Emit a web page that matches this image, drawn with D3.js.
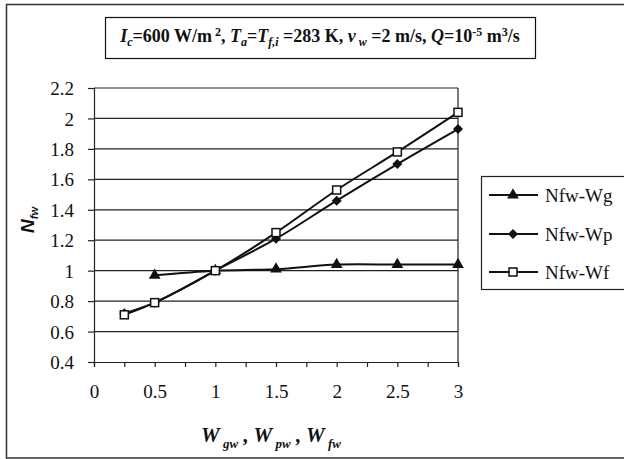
<!DOCTYPE html>
<html><head><meta charset="utf-8">
<script src="https://cdn.jsdelivr.net/npm/d3@7"></script>
<style>body{margin:0;background:#fff}svg{display:block}</style>
</head><body>
<svg id="c" width="624" height="459"></svg>
<script>
const xWg = [0.5, 1, 1.5, 2, 2.5, 3];
const yWg = [0.97, 1.0, 1.01, 1.04, 1.04, 1.04];
const xWp = [0.25, 0.5, 1, 1.5, 2, 2.5, 3];
const yWp = [0.72, 0.79, 1.0, 1.21, 1.46, 1.70, 1.93];
const xWf = [0.25, 0.5, 1, 1.5, 2, 2.5, 3];
const yWf = [0.71, 0.79, 1.0, 1.25, 1.53, 1.78, 2.04];
const seriesNames = ["Nfw-Wg", "Nfw-Wp", "Nfw-Wf"];
const xTickLabels = [0, 0.5, 1, 1.5, 2, 2.5, 3];
const yTickLabels = [0.4, 0.6, 0.8, 1, 1.2, 1.4, 1.6, 1.8, 2, 2.2];

const svg = d3.select("#c");
const serif = "'Liberation Serif','Times New Roman',serif";
const L = 94, R = 458, T = 88, B = 362;
const x = d3.scaleLinear().domain([0, 3]).range([L, R]);
const y = d3.scaleLinear().domain([0.4, 2.2]).range([B, T]);

// outer frame
svg.append("rect").attr("x", 6.5).attr("y", 4.5).attr("width", 640).attr("height", 453.5)
  .attr("fill", "none").attr("stroke", "#333").attr("stroke-width", 1.5);

// title box
svg.append("rect").attr("x", 105.5).attr("y", 17.5).attr("width", 430).attr("height", 41)
  .attr("fill", "#fff").attr("stroke", "#111").attr("stroke-width", 1.2);
const tt = svg.append("text").attr("x", 320).attr("y", 42).attr("text-anchor", "middle")
  .attr("font-family", serif).attr("font-weight", "bold").attr("font-size", 18).attr("fill", "#111");
const parts = [
  ["I", "it"], ["c", "sub-it"], ["=600 W/m", ""], [" 2", "sup"], [", ", ""],
  ["T", "it"], ["a", "sub-it"], ["=", ""], ["T", "it"], ["f,i", "sub-it"], [" =283 K, ", ""],
  ["ν", "it"], [" w", "sub-it"], [" =2 m/s, ", ""], ["Q", "it"], ["=10", ""], ["-5", "sup"], [" m", ""], ["3", "sup"], ["/s", ""]
];
parts.forEach(([t, k]) => {
  const s = tt.append("tspan").text(t);
  if (k.includes("it")) s.attr("font-style", "italic");
  if (k.startsWith("sub")) { s.attr("font-size", 12).attr("baseline-shift", "-4"); }
  if (k === "sup") { s.attr("font-size", 12).attr("baseline-shift", "6"); }
});

// gridlines
svg.append("g").selectAll("line").data(yTickLabels.filter(v => v > 0.4)).join("line")
  .attr("x1", L).attr("x2", R).attr("y1", d => y(d)).attr("y2", d => y(d))
  .attr("stroke", "#222").attr("stroke-width", 1.2);
// right border
svg.append("line").attr("x1", R).attr("x2", R).attr("y1", T).attr("y2", B)
  .attr("stroke", "#222").attr("stroke-width", 1.2);

// axes
const yAxis = d3.axisLeft(y).tickValues(yTickLabels).tickSize(6).tickFormat(d => d3.format("")(+d.toFixed(1)));
const gy = svg.append("g").attr("transform", `translate(${L},0)`).call(yAxis);
gy.select(".domain").attr("stroke", "#222").attr("stroke-width", 1.2);
gy.selectAll(".tick line").attr("stroke", "#222").attr("stroke-width", 1.2);
gy.selectAll(".tick text").attr("font-family", serif).attr("font-size", 19).attr("fill", "#111").attr("x", -20).attr("dy", "0.35em");

const xAxisTicks = d3.range(0, 3.01, 0.25);
const xAxis = d3.axisBottom(x).tickValues(xAxisTicks).tickSize(5)
  .tickFormat(d => xTickLabels.includes(d) ? String(d) : "");
const gx = svg.append("g").attr("transform", `translate(0,${B})`).call(xAxis);
gx.select(".domain").attr("stroke", "#222").attr("stroke-width", 1.2);
gx.selectAll(".tick line").attr("stroke", "#222").attr("stroke-width", 1.2);
gx.selectAll(".tick text").attr("font-family", serif).attr("font-size", 19).attr("fill", "#111").attr("y", 23);

// axis titles
const yl = svg.append("text").attr("transform", "translate(34,220) rotate(-90)").attr("text-anchor", "middle")
  .attr("font-family", "'Liberation Sans',Arial,sans-serif").attr("font-weight", "bold").attr("font-style", "italic")
  .attr("font-size", 19).attr("fill", "#111");
yl.append("tspan").text("N");
yl.append("tspan").text("fw").attr("font-size", 11).attr("baseline-shift", "-4");

const xl = svg.append("text").attr("x", 271).attr("y", 442).attr("text-anchor", "middle")
  .attr("font-family", serif).attr("font-weight", "bold").attr("font-style", "italic").attr("font-size", 21).attr("fill", "#111");
[["W", 0], [" gw", 1], [" , ", 0], ["W", 0], [" pw", 1], [" , ", 0], ["W", 0], [" fw", 1]].forEach(([t, s]) => {
  const sp = xl.append("tspan").text(t);
  if (s) sp.attr("font-size", 13).attr("baseline-shift", "-6");
});

// series
const series = [
  {name: seriesNames[0], xs: xWg, ys: yWg, marker: "tri"},
  {name: seriesNames[1], xs: xWp, ys: yWp, marker: "dia"},
  {name: seriesNames[2], xs: xWf, ys: yWf, marker: "sq"}
];
const line = d3.line().x(d => x(d[0])).y(d => y(d[1])).curve(d3.curveCatmullRom.alpha(0.5));

function drawMarker(g, type, cx, cy) {
  if (type === "tri") {
    g.append("path").attr("d", d3.symbol(d3.symbolTriangle, 60)()).attr("transform", `translate(${cx},${cy})`)
      .attr("fill", "#111");
  } else if (type === "dia") {
    g.append("path").attr("d", `M0,-5L5,0L0,5L-5,0Z`).attr("transform", `translate(${cx},${cy})`).attr("fill", "#111");
  } else {
    g.append("rect").attr("x", cx - 4).attr("y", cy - 4).attr("width", 8).attr("height", 8)
      .attr("fill", "#fff").attr("stroke", "#111").attr("stroke-width", 1.5);
  }
}

const gs = svg.append("g");
series.forEach(s => {
  const pts = s.xs.map((v, i) => [v, s.ys[i]]);
  gs.append("path").attr("d", line(pts)).attr("fill", "none").attr("stroke", "#111").attr("stroke-width", 2);
});
series.forEach(s => {
  s.xs.forEach((v, i) => drawMarker(gs, s.marker, x(v), y(s.ys[i])));
});

// legend
svg.append("rect").attr("x", 481.5).attr("y", 176.5).attr("width", 160).attr("height", 113)
  .attr("fill", "#fff").attr("stroke", "#222").attr("stroke-width", 1.2);
const ly = [195, 234, 272];
series.forEach((s, i) => {
  svg.append("line").attr("x1", 489).attr("x2", 538).attr("y1", ly[i]).attr("y2", ly[i])
    .attr("stroke", "#111").attr("stroke-width", 2);
  drawMarker(svg, s.marker, 513, ly[i]);
  svg.append("text").attr("x", 545).attr("y", ly[i]).attr("dy", "0.35em")
    .attr("font-family", serif).attr("font-size", 19).attr("fill", "#111").text(s.name);
});
</script>
</body></html>
